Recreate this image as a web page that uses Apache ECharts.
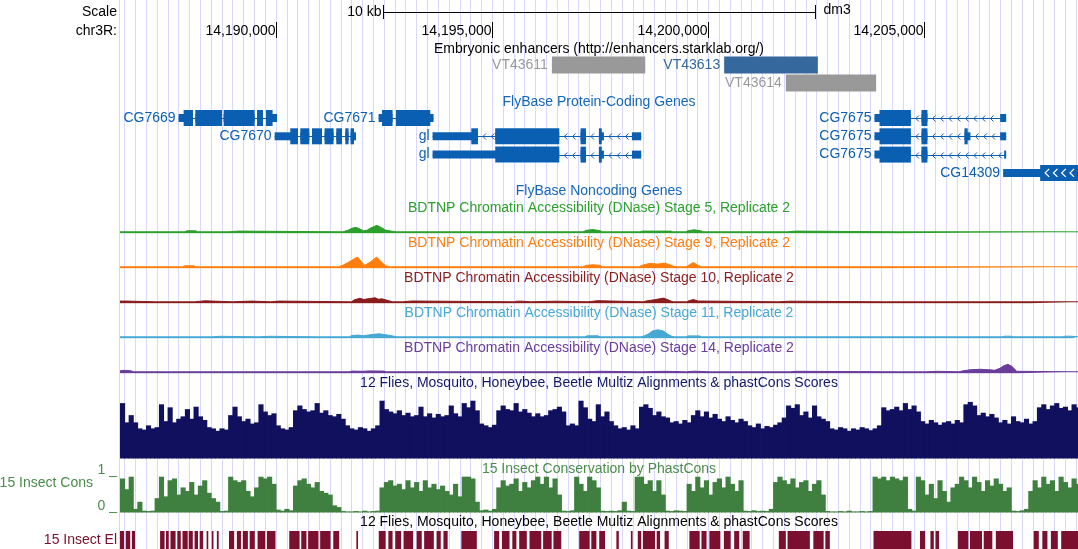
<!DOCTYPE html>
<html>
<head>
<meta charset="utf-8">
<title>chr3R:14,186,400-14,208,550 (dm3)</title>
<script src="https://cdn.jsdelivr.net/npm/echarts@6.0.0/dist/echarts.min.js"></script>
<style>
html,body{margin:0;padding:0;background:#ffffff;}
#chart{width:1078px;height:549px;}
</style>
</head>
<body>
<div id="chart"></div>
<script>
// ================= DATA =================
const viewRange = [14186400, 14208550];
const rulerTicks = [14190000, 14195000, 14200000, 14205000];
const rulerLabels = ['14,190,000', '14,195,000', '14,200,000', '14,205,000'];
const scaleBarRange = [14192475, 14202475];
const scaleBarLabel = '10 kb';
const assemblyName = 'dm3';
const rowLabels = ['Scale', 'chr3R:'];

const enhancerNames = ['VT43611', 'VT43613', 'VT43614'];
const enhancerStarts = [14196386, 14200369, 14201795];
const enhancerEnds = [14198545, 14202535, 14203883];
const enhancerRows = [0, 0, 1];

const geneNames = ['CG7669', 'CG7670', 'CG7671', 'gl', 'gl', 'CG7675', 'CG7675', 'CG7675', 'CG14309'];
const geneRows = [0, 1, 0, 1, 2, 0, 1, 2, 3];
const geneStrands = ['+', '+', '+', '-', '-', '-', '-', '-', '-'];
const geneCds = [
  [14187871, 14189928], [14190337, 14191810], [14192457, 14193574],
  [14194522, 14197540], [14195076, 14197540],
  [14203960, 14205069], [14203960, 14206000], [14203960, 14205069],
  [14207675, 14209500]
];
const geneExons = [
  [[14187755, 14188088], [14188142, 14188759], [14188796, 14189512], [14189568, 14189706], [14189776, 14190030]],
  [[14189975, 14190515], [14190569, 14190777], [14190839, 14191070], [14191130, 14191338], [14191401, 14191533], [14191609, 14191685], [14191731, 14191856]],
  [[14192379, 14192702], [14192781, 14193650]],
  [[14193627, 14194676], [14195076, 14196556], [14197048, 14197173], [14197473, 14197589], [14198236, 14198451]],
  [[14193627, 14196556], [14197048, 14197173], [14197473, 14197589], [14198236, 14198451]],
  [[14203844, 14204686], [14204931, 14205069], [14206750, 14206889]],
  [[14203844, 14204686], [14204931, 14205069], [14205925, 14206063], [14206750, 14206889]],
  [[14203844, 14204686], [14204931, 14205069], [14206842, 14206889]],
  [[14206819, 14209500]]
];

const dnaseTitles = [
  'BDTNP Chromatin Accessibility (DNase) Stage 5, Replicate 2',
  'BDTNP Chromatin Accessibility (DNase) Stage 9, Replicate 2',
  'BDTNP Chromatin Accessibility (DNase) Stage 10, Replicate 2',
  'BDTNP Chromatin Accessibility (DNase) Stage 11, Replicate 2',
  'BDTNP Chromatin Accessibility (DNase) Stage 14, Replicate 2'
];
const dnaseStage5 = [[14186400,1.5],[14187900,1.5],[14187950,2.5],[14188150,2.5],[14188200,1.5],[14188900,1.5],[14188940,2.2],[14189130,2.2],[14189170,1.5],[14191550,1.5],[14191670,3],[14191760,5],[14191855,6],[14191960,4],[14192030,2.5],[14192110,3],[14192180,5],[14192340,8],[14192450,5.5],[14192550,3],[14192700,2],[14192800,1.5],[14197100,1.5],[14197190,3],[14197334,3.8],[14197500,2.5],[14197560,1.5],[14198420,1.5],[14198470,2.2],[14199130,2.2],[14199180,1.5],[14199480,1.5],[14199530,2.5],[14199669,3.5],[14199830,2.5],[14199880,1.5],[14201820,1.5],[14201860,2.2],[14202030,2.2],[14202070,1.5],[14204380,1.5],[14204410,2],[14204440,1.5],[14208550,1.5]];
const dnaseStage9 = [[14186400,1.5],[14187850,1.5],[14187900,2.5],[14188110,2.5],[14188160,1.5],[14191450,1.5],[14191555,3],[14191718,7],[14191892,11.3],[14191990,6],[14192060,3],[14192179,6],[14192336,11.3],[14192450,6],[14192542,2.5],[14192650,1.5],[14197100,1.5],[14197186,3],[14197340,3.5],[14197496,3],[14197550,1.5],[14198400,1.5],[14198467,3],[14198651,5],[14198836,4.2],[14198998,5.2],[14199206,2],[14199280,1.5],[14199480,1.5],[14199530,2.5],[14199657,5.8],[14199784,2.5],[14199850,1.5],[14201900,1.5],[14201950,2],[14202000,1.5],[14204050,1.5],[14204084,2],[14204120,1.5],[14208550,1.5]];
const dnaseStage10 = [[14186400,2.2],[14186560,2.2],[14186600,1.5],[14187240,1.5],[14187280,2.2],[14187320,1.5],[14188120,1.5],[14188157,2.5],[14188365,2.5],[14188400,1.5],[14189000,1.5],[14189035,2.3],[14189450,2.2],[14189480,1.5],[14189880,1.5],[14189913,2.2],[14190075,2.2],[14190110,1.5],[14191750,1.5],[14191821,3.5],[14191948,5],[14192040,3.8],[14192133,4.5],[14192295,5.5],[14192380,4],[14192456,4.5],[14192641,2.2],[14192700,1.5],[14192930,1.5],[14192965,2.3],[14193150,2.3],[14193190,1.5],[14195520,1.5],[14195575,2.1],[14195700,2.1],[14195740,1.5],[14195900,1.5],[14195940,2.1],[14196480,2.1],[14196520,1.5],[14197220,1.5],[14197260,2.6],[14197450,2.6],[14197490,1.5],[14198500,1.5],[14198559,2.2],[14198750,3.5],[14198975,5.2],[14199137,2.2],[14199200,1.5],[14199500,1.5],[14199553,2.5],[14199660,3.8],[14199761,2.3],[14199800,1.5],[14201620,1.5],[14201660,2.1],[14201890,2.1],[14201930,1.5],[14204050,1.5],[14204084,2.1],[14204120,1.5],[14206300,1.5],[14206342,2.1],[14206380,1.5],[14207380,1.5],[14207411,2.1],[14207450,1.5],[14208550,1.5]];
const dnaseStage11 = [[14186400,1.5],[14188520,1.5],[14188560,2],[14188720,2],[14188760,1.5],[14189610,1.5],[14189650,2],[14189860,2],[14189900,1.5],[14190950,1.5],[14190990,2],[14191030,1.5],[14191700,1.5],[14191763,2.8],[14191900,3.2],[14192017,2.5],[14192179,3.5],[14192387,4.5],[14192550,3.5],[14192747,2],[14192800,1.5],[14197150,1.5],[14197200,2.5],[14197450,2.5],[14197500,1.5],[14198440,1.5],[14198490,2],[14198605,4],[14198721,7.5],[14198836,8.5],[14198952,7.5],[14199068,4],[14199160,2],[14199220,1.5],[14199480,1.5],[14199530,2.4],[14199800,2.4],[14199850,1.5],[14204040,1.5],[14204084,2.1],[14204130,1.5],[14206800,1.5],[14206850,2.1],[14207000,2.1],[14207050,1.5],[14208200,1.5],[14208250,2.1],[14208380,2.1],[14208420,1.5],[14208550,1.5]];
const dnaseStage14 = [[14186400,2.5],[14186500,3],[14186650,2.5],[14186720,1.5],[14187500,1.5],[14187540,2],[14187600,1.5],[14190500,1.5],[14190540,2],[14190590,1.5],[14191700,1.5],[14191760,2.2],[14192000,2],[14192180,2.4],[14192500,2.2],[14192560,1.5],[14197140,1.5],[14197180,2],[14197500,2],[14197540,1.5],[14198460,1.5],[14198500,2],[14199000,2],[14199040,1.5],[14199500,1.5],[14199530,2.1],[14199677,2.1],[14199710,1.5],[14200050,1.5],[14200075,2],[14200100,1.5],[14201900,1.5],[14201934,2],[14202020,2],[14202060,1.5],[14204400,1.5],[14204430,2],[14204460,1.5],[14205040,1.5],[14205073,2],[14205309,2],[14205350,1.5],[14205800,1.5],[14205864,2.2],[14206049,3.5],[14206280,4],[14206511,3.5],[14206627,3],[14206742,5],[14206835,7.5],[14206927,9],[14207019,7],[14207135,2],[14207180,1.5],[14208550,1.5]];

const multizTitle = '12 Flies, Mosquito, Honeybee, Beetle Multiz Alignments & phastCons Scores';
const binSize = 100; // bp per value below
const multizValues = [
  0.92,0.60,0.72,0.60,0.50,0.48,0.55,0.50,0.52,0.90,
  0.62,0.85,0.60,0.66,0.70,0.82,0.66,0.86,0.70,0.64,
  0.52,0.50,0.46,0.50,0.48,0.72,0.86,0.70,0.62,0.66,
  0.58,0.60,0.90,0.78,0.72,0.75,0.55,0.50,0.48,0.52,
  0.80,0.88,0.82,0.78,0.80,0.92,0.76,0.80,0.72,0.70,
  0.74,0.66,0.55,0.50,0.48,0.52,0.50,0.46,0.50,0.55,
  0.96,0.82,0.78,0.75,0.80,0.72,0.76,0.70,0.72,0.86,
  0.70,0.75,0.68,0.74,0.70,0.72,0.88,0.75,0.70,0.92,
  0.85,0.96,0.80,0.58,0.55,0.52,0.56,0.80,0.88,0.82,
  0.80,0.92,0.78,0.82,0.76,0.70,0.75,0.70,0.72,0.80,
  0.82,0.86,0.78,0.55,0.58,0.55,0.96,0.85,0.66,0.62,
  0.90,0.70,0.78,0.62,0.55,0.50,0.52,0.48,0.55,0.50,
  0.86,0.90,0.84,0.72,0.78,0.70,0.68,0.60,0.62,0.58,
  0.64,0.60,0.72,0.80,0.70,0.78,0.68,0.74,0.66,0.62,
  0.70,0.64,0.60,0.66,0.62,0.55,0.52,0.58,0.50,0.54,
  0.52,0.56,0.60,0.68,0.88,0.84,0.90,0.72,0.78,0.68,
  0.88,0.70,0.66,0.62,0.50,0.48,0.52,0.50,0.46,0.50,
  0.48,0.52,0.50,0.47,0.50,0.55,0.85,0.80,0.82,0.86,
  0.80,0.92,0.82,0.88,0.78,0.62,0.58,0.64,0.60,0.56,
  0.60,0.62,0.58,0.64,0.60,0.90,0.94,0.88,0.72,0.76,
  0.70,0.74,0.68,0.60,0.64,0.58,0.70,0.62,0.60,0.66,
  0.58,0.62,0.85,0.90,0.82,0.88,0.92,0.84,0.86,0.80,
  0.90,0.85
];

const consTitle = '15 Insect Conservation by PhastCons';
const consLabel = '15 Insect Cons';
const consAxisLabels = ['1 _', '0 _'];
const consValues = [
  0.95,0.65,1.0,0.1,0.3,0.05,0.04,0.05,0.4,1.0,
  0.45,0.9,0.95,0.5,0.7,0.6,0.85,0.5,0.75,0.9,
  0.55,0.4,0.3,0.04,0.05,1.0,0.9,0.85,0.9,0.6,
  0.45,0.7,1.0,0.95,1.0,0.8,0.08,0.05,0.1,0.06,
  0.75,0.9,0.95,0.8,0.7,0.85,0.6,0.55,0.5,0.2,
  0.15,0.04,0.03,0.03,0.04,0.03,0.05,0.03,0.04,0.05,
  0.7,0.85,0.9,0.75,0.8,0.65,0.9,0.7,0.85,0.6,
  0.9,0.7,0.8,0.65,0.75,0.6,0.5,0.8,0.45,1.0,
  1.0,0.95,0.3,0.06,0.08,0.05,0.1,0.7,0.9,0.75,
  0.8,0.95,0.6,0.85,0.7,0.9,1.0,0.8,1.0,0.7,
  0.95,0.5,0.05,0.04,0.06,1.0,0.8,0.6,1.0,0.9,
  0.7,0.05,0.04,0.05,0.04,0.06,0.3,0.05,0.04,1.0,
  1.0,0.8,0.9,0.6,0.9,0.5,0.05,0.04,0.06,0.05,
  0.04,0.8,0.6,1.0,0.7,0.9,0.5,0.85,0.95,0.7,
  1.0,0.8,0.6,0.9,0.05,0.04,0.06,0.04,0.05,0.04,
  0.1,0.85,1.0,0.9,0.8,0.95,0.7,0.85,0.9,0.6,
  0.8,0.9,0.5,0.04,0.03,0.03,0.04,0.03,0.05,0.03,
  0.03,0.04,0.03,0.04,1.0,0.95,1.0,0.9,1.0,0.95,
  0.9,1.0,0.1,0.05,1.0,0.9,0.5,0.8,0.4,0.9,
  0.6,0.3,0.7,0.8,1.0,0.9,0.7,1.0,0.85,0.6,
  0.9,0.75,0.95,0.8,0.6,0.7,0.05,0.04,0.06,0.1,
  0.6,0.9,0.7,1.0,0.8,0.9,0.6,1.0,0.85,0.7,
  0.95,0.8
];

const elementsTitle = '12 Flies, Mosquito, Honeybee, Beetle Multiz Alignments & phastCons Scores';
const elementsLabel = '15 Insect El';
const elementStarts = [14186400,14186532,14186675,14187327,14187463,14187567,14187725,14187845,14187988,14188124,14188242,14188402,14188522,14188640,14188920,14189102,14189239,14189398,14189581,14189796,14190313,14190591,14190750,14191028,14191331,14191865,14192383,14192605,14192764,14192956,14193259,14193432,14193719,14193878,14194292,14195050,14195230,14195471,14195630,14195868,14196183,14196421,14197017,14197297,14197480,14197877,14198212,14198372,14198490,14198809,14198991,14199565,14199844,14200027,14200362,14200600,14200799,14201633,14201834,14202431,14202708,14203822,14204897,14205138,14205256,14205774,14206053,14206370,14206650,14207526,14207725,14207923,14208162];
const elementEnds = [14186492,14186636,14186747,14187431,14187526,14187685,14187805,14187965,14188083,14188203,14188323,14188441,14188561,14188682,14189040,14189197,14189357,14189516,14189757,14189995,14190552,14190711,14190989,14191268,14191467,14191904,14192543,14192702,14192900,14193178,14193377,14193656,14193816,14193976,14194650,14195168,14195406,14195565,14195806,14196141,14196381,14196603,14197258,14197415,14197614,14197933,14198252,14198451,14198770,14198887,14199088,14199803,14199962,14200281,14200519,14200718,14200958,14201795,14202350,14202669,14202812,14204698,14205017,14205216,14205337,14206014,14206330,14206569,14207047,14207644,14207843,14208083,14208550];

const enhancersTitle = 'Embryonic enhancers (http://enhancers.starklab.org/)';
const codingTitle = 'FlyBase Protein-Coding Genes';
const noncodingTitle = 'FlyBase Noncoding Genes';

// ================= STYLE =================
const FONT = '14px "Liberation Sans", Arial, Helvetica, sans-serif';
const LEFT = 120, CENTER_X = 599;
const GUIDE_COLOR = '#d8d8fc';
const GENE_COLOR = '#0b5fb3';
const GENE_TITLE_COLOR = '#1567b9';
const ENH_GRAY = '#999999';
const enhancerHighlight = { VT43613: '#35689c' };
const dnaseColors = ['#2ca02c', '#ff7f0e', '#8b1c1c', '#47a8d4', '#6a3d9a'];
const MULTIZ_COLOR = '#10105f', MULTIZ_TITLE = '#12186a';
const CONS_COLOR = '#3f7f3f', CONS_TEXT = '#4a8c4a';
const EL_COLOR = '#7a0f2f';
const THICK = 8, THIN = 4, CHEV_STEP = 8.3;

// ================= LAYOUT (grids) =================
const gridDefs = [
  { top: 0, height: 549 },     // 0 guides
  { top: 5, height: 14 },      // 1 scale bar
  { top: 22, height: 16 },     // 2 ruler
  { top: 56, height: 36 },     // 3 enhancers
  { top: 108.85, height: 73.2 }, // 4 genes
  { top: 213.3, height: 20 },  // 5 stage 5
  { top: 248.3, height: 20 },  // 6 stage 9
  { top: 283.3, height: 20 },  // 7 stage 10
  { top: 318.3, height: 20 },  // 8 stage 11
  { top: 353.3, height: 20 },  // 9 stage 14
  { top: 398.3, height: 60.2 },// 10 multiz
  { top: 476.7, height: 35.8 },// 11 phastCons
  { top: 531, height: 18 }     // 12 elements
];
const yRanges = [[0,1],[0,1],[0,1],[0,2],[0,4],[0,20],[0,20],[0,20],[0,20],[0,20],[0,1],[0,1],[0,1]];
const yInverse = [false,false,false,true,true,false,false,false,false,false,false,false,false];

const grids = gridDefs.map(g => ({ left: LEFT, right: 0, top: g.top, height: g.height, containLabel: false, show: false }));
const xAxes = gridDefs.map((g, i) => ({ type: 'value', gridIndex: i, min: viewRange[0], max: viewRange[1], show: false }));
const yAxes = gridDefs.map((g, i) => ({ type: 'value', gridIndex: i, min: yRanges[i][0], max: yRanges[i][1], inverse: yInverse[i], show: false }));

function clipX(params, v) {
  const c = params.coordSys;
  return Math.max(c.x, Math.min(c.x + c.width, v));
}

// guide lines every 250 bp
const guideBp = [];
for (let b = Math.ceil(viewRange[0] / 250) * 250; b <= viewRange[1]; b += 250) guideBp.push([b, 0]);

function renderGuide(params, api) {
  const p0 = api.coord([api.value(0), 0]);
  const p1 = api.coord([api.value(0), 1]);
  const x = Math.round(p0[0]) + 0.5;
  return { type: 'line', shape: { x1: x, y1: p0[1], x2: x, y2: p1[1] }, style: { stroke: GUIDE_COLOR, lineWidth: 1 } };
}

function renderScaleBar(params, api) {
  const a = api.coord([api.value(0), 0.5]);
  const b = api.coord([api.value(1), 0.5]);
  const top = api.coord([api.value(0), 1])[1], bot = api.coord([api.value(0), 0])[1];
  const xa = Math.round(a[0]) + 0.5, xb = Math.round(b[0]) + 0.5, y = Math.round(a[1]) + 0.5;
  return { type: 'group', children: [
    { type: 'line', shape: { x1: xa, y1: y, x2: xb, y2: y }, style: { stroke: '#000', lineWidth: 1 } },
    { type: 'line', shape: { x1: xa, y1: top, x2: xa, y2: bot }, style: { stroke: '#000', lineWidth: 1 } },
    { type: 'line', shape: { x1: xb, y1: top, x2: xb, y2: bot }, style: { stroke: '#000', lineWidth: 1 } },
    { type: 'text', x: xa - 2, y: y, style: { text: scaleBarLabel, fill: '#000', font: FONT, align: 'right', verticalAlign: 'middle' } },
    { type: 'text', x: xb + 8, y: y - 2, style: { text: assemblyName, fill: '#000', font: FONT, align: 'left', verticalAlign: 'middle' } }
  ] };
}

function renderRuler(params, api) {
  const t = api.value(0), idx = api.value(2);
  const p0 = api.coord([t, 0]), p1 = api.coord([t, 1]);
  const x = Math.round(p0[0]) + 0.5;
  return { type: 'group', children: [
    { type: 'line', shape: { x1: x, y1: p1[1], x2: x, y2: p0[1] }, style: { stroke: '#000', lineWidth: 1 } },
    { type: 'text', x: x - 1, y: (p0[1] + p1[1]) / 2 + 1, style: { text: rulerLabels[idx], fill: '#000', font: FONT, align: 'right', verticalAlign: 'middle' } }
  ] };
}

function renderEnhancer(params, api) {
  const i = api.value(2);
  const r = enhancerRows[i];
  const p0 = api.coord([enhancerStarts[i], r + 0.5]);
  const p1 = api.coord([enhancerEnds[i], r + 0.5]);
  const fill = enhancerHighlight[enhancerNames[i]] || ENH_GRAY;
  return { type: 'group', children: [
    { type: 'rect', shape: { x: p0[0], y: p0[1] - 8.5, width: p1[0] - p0[0], height: 17 }, style: { fill: fill } },
    { type: 'text', x: p0[0] - 4, y: p0[1], style: { text: enhancerNames[i], fill: fill, font: FONT, align: 'right', verticalAlign: 'middle' } }
  ] };
}

function chevron(x, y, strand, h, color, w) {
  const d = strand === '-' ? 1 : -1;
  return { type: 'polyline', shape: { points: [[x + d * h, y - h], [x, y], [x + d * h, y + h]] }, style: { stroke: color, lineWidth: w, fill: null } };
}

function renderGene(params, api) {
  const i = api.value(2);
  const row = geneRows[i];
  const ex = geneExons[i], cds = geneCds[i], strand = geneStrands[i];
  const yc = api.coord([viewRange[0], row + 0.5])[1];
  const X = b => api.coord([b, row + 0.5])[0];
  const cx = v => clipX(params, v);
  const kids = [];
  const xs = X(ex[0][0]), xe = X(ex[ex.length - 1][1]);
  kids.push({ type: 'line', shape: { x1: cx(xs), y1: Math.round(yc) + 0.5, x2: cx(xe), y2: Math.round(yc) + 0.5 }, style: { stroke: GENE_COLOR, lineWidth: 1 } });
  for (let k = 0; k < ex.length - 1; k++) {
    const a = X(ex[k][1]), b = X(ex[k + 1][0]);
    for (let x = a + 5; x <= b - 4; x += CHEV_STEP) kids.push(chevron(x, Math.round(yc) + 0.5, strand, 3, GENE_COLOR, 1));
  }
  ex.forEach(([s, e]) => {
    const x0 = cx(X(s)), x1 = cx(X(e));
    if (x1 > x0) kids.push({ type: 'rect', shape: { x: x0, y: yc - THIN, width: x1 - x0, height: 2 * THIN }, style: { fill: GENE_COLOR } });
    const ts = Math.max(s, cds[0]), te = Math.min(e, cds[1]);
    if (te > ts) {
      const t0 = cx(X(ts)), t1 = cx(X(te));
      if (t1 > t0) kids.push({ type: 'rect', shape: { x: t0, y: yc - THICK, width: t1 - t0, height: 2 * THICK }, style: { fill: GENE_COLOR } });
    }
  });
  if (ex.length === 1) {
    const a = cx(X(Math.max(ex[0][0], cds[0]))), b = cx(X(Math.min(ex[0][1], cds[1])));
    for (let x = a + 5; x <= b - 4; x += CHEV_STEP) kids.push(chevron(x, yc, strand, 4, '#ffffff', 1.3));
  }
  kids.push({ type: 'text', x: xs - 3, y: yc, style: { text: geneNames[i], fill: GENE_COLOR, font: FONT, align: 'right', verticalAlign: 'middle' } });
  return { type: 'group', children: kids };
}

// contiguous: extend each bin a little so neighbouring bins join without seams
function binRenderer(color, contiguous) {
  return function (params, api) {
    const s = api.value(0), e = api.value(1), v = api.value(2);
    const p0 = api.coord([s, v]), p1 = api.coord([e, 0]);
    const c = params.coordSys;
    const w = p1[0] - p0[0] + (contiguous ? 0.8 : 0);
    const r = echarts.graphic.clipRectByRect(
      { x: p0[0], y: p0[1], width: w, height: p1[1] - p0[1] },
      { x: c.x, y: c.y, width: c.width, height: c.height });
    return r ? { type: 'rect', shape: r, style: { fill: color } } : null;
  };
}

const multizData = multizValues.map((v, i) => [viewRange[0] + i * binSize, viewRange[0] + (i + 1) * binSize, v]);
const consData = consValues.map((v, i) => [viewRange[0] + i * binSize, viewRange[0] + (i + 1) * binSize, v]);
const elementData = elementStarts.map((s, i) => [s, elementEnds[i], 1]);

const dnaseSets = [dnaseStage5, dnaseStage9, dnaseStage10, dnaseStage11, dnaseStage14];

const series = [];
series.push({ type: 'custom', name: 'guides', xAxisIndex: 0, yAxisIndex: 0, z: 0, silent: true, renderItem: renderGuide, data: guideBp });
series.push({ type: 'custom', name: 'scale', xAxisIndex: 1, yAxisIndex: 1, z: 3, silent: true, renderItem: renderScaleBar, data: [[scaleBarRange[0], scaleBarRange[1]]] });
series.push({ type: 'custom', name: 'ruler', xAxisIndex: 2, yAxisIndex: 2, z: 3, silent: true, renderItem: renderRuler, data: rulerTicks.map((t, i) => [t, 0.5, i]) });
series.push({ type: 'custom', name: 'enhancers', xAxisIndex: 3, yAxisIndex: 3, z: 3, silent: true, renderItem: renderEnhancer, data: enhancerNames.map((n, i) => [enhancerStarts[i], enhancerRows[i] + 0.5, i]) });
series.push({ type: 'custom', name: 'genes', xAxisIndex: 4, yAxisIndex: 4, z: 3, silent: true, renderItem: renderGene, data: geneNames.map((n, i) => [geneExons[i][0][0], geneRows[i] + 0.5, i]) });
dnaseSets.forEach((set, k) => {
  series.push({ type: 'line', name: dnaseTitles[k], xAxisIndex: 5 + k, yAxisIndex: 5 + k, z: 3, silent: true,
    data: set, symbol: 'none', smooth: false,
    lineStyle: { color: dnaseColors[k], width: 1 },
    areaStyle: { color: dnaseColors[k], opacity: 1 } });
});
series.push({ type: 'custom', name: 'multiz', xAxisIndex: 10, yAxisIndex: 10, z: 3, silent: true, renderItem: binRenderer(MULTIZ_COLOR, true), data: multizData });
series.push({ type: 'custom', name: 'phastCons', xAxisIndex: 11, yAxisIndex: 11, z: 3, silent: true, renderItem: binRenderer(CONS_COLOR, true), data: consData });
series.push({ type: 'custom', name: 'elements', xAxisIndex: 12, yAxisIndex: 12, z: 3, silent: true, renderItem: binRenderer(EL_COLOR, false), data: elementData });

function txt(text, x, y, fill, align) {
  return { type: 'text', x: x, y: y, z: 50, silent: true,
    style: { text: text, fill: fill, font: FONT, align: align || 'center', verticalAlign: 'middle' } };
}
const graphics = [
  { type: 'rect', x: 119, y: 0, z: 1, silent: true, shape: { width: 1, height: 549 }, style: { fill: '#ffcaca' } },
  txt(rowLabels[0], 117, 12, '#000', 'right'),
  txt(rowLabels[1], 117, 31, '#000', 'right'),
  txt(enhancersTitle, CENTER_X, 49.5, '#000'),
  txt(codingTitle, CENTER_X, 102.5, GENE_TITLE_COLOR),
  txt(noncodingTitle, CENTER_X, 191, GENE_TITLE_COLOR),
  txt(multizTitle, CENTER_X, 383.5, MULTIZ_TITLE),
  txt(consTitle, CENTER_X, 469.5, CONS_TEXT),
  txt(consLabel, 93, 483.5, CONS_TEXT, 'right'),
  txt(consAxisLabels[0], 117, 470.5, CONS_TEXT, 'right'),
  txt(consAxisLabels[1], 117, 506, CONS_TEXT, 'right'),
  txt(elementsTitle, CENTER_X, 522, '#000'),
  txt(elementsLabel, 117, 540.5, EL_COLOR, 'right')
];
dnaseTitles.forEach((t, k) => graphics.push(txt(t, CENTER_X, 208.5 + 35 * k, dnaseColors[k])));

const chart = echarts.init(document.getElementById('chart'), null, { renderer: 'canvas' });
chart.setOption({
  animation: false,
  backgroundColor: '#ffffff',
  grid: grids,
  xAxis: xAxes,
  yAxis: yAxes,
  series: series,
  graphic: { elements: graphics }
});
</script>
</body>
</html>
